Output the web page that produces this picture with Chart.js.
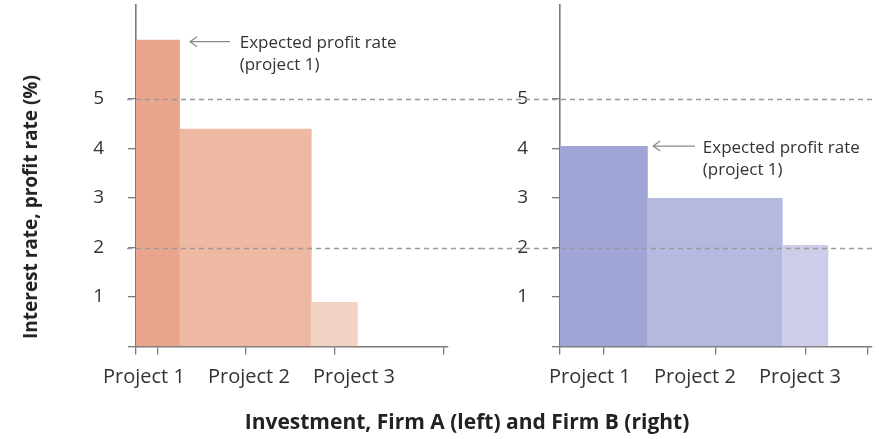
<!DOCTYPE html>
<html>
<head>
<meta charset="utf-8">
<script src="https://cdn.jsdelivr.net/npm/chart.js@4.4.1/dist/chart.umd.min.js"></script>
<style>
body{margin:0;background:#fff;width:879px;height:439px;position:relative;overflow:hidden;font-family:"Open Sans",sans-serif}
#leftWrap{position:absolute;left:0;top:0;width:480px;height:439px}
#rightWrap{position:absolute;left:480px;top:0;width:399px;height:439px}
.ytitle{position:absolute;left:30px;top:207px;transform:translate(-50%,-50%) rotate(-90deg);font-weight:bold;font-size:19px;white-space:nowrap;color:#222}
.xtitle{position:absolute;left:467px;top:421px;transform:translate(-50%,-50%);font-weight:bold;font-size:21px;white-space:nowrap;color:#222}
</style>
</head>
<body>
<div id="leftWrap"><canvas id="chartA"></canvas></div>
<div id="rightWrap"><canvas id="chartB"></canvas></div>
<div class="ytitle">Interest rate, profit rate (%)</div>
<div class="xtitle">Investment, Firm A (left) and Firm B (right)</div>
<script>
// ----- DATOS ----- //
const PROJECTS = ["Project 1", "Project 2", "Project 3"];
// Firm A (izquierda): tamaño de inversión y tasa de beneficio esperada
const FIRM_A_SIZE = [1.0, 3.0, 1.05];
const FIRM_A_RATE = [6.2, 4.4, 0.9];
// Firm B (derecha)
const FIRM_B_SIZE = [2.0, 3.07, 1.04];
const FIRM_B_RATE = [4.05, 3.0, 2.05];
// líneas de tipo de interés (discontinuas)
const INTEREST_RATES = [5, 2];
const Y_TICKS = [0, 1, 2, 3, 4, 5];
const ANNOT_LINES = ["Expected profit rate", "(project 1)"];

// ----- ESTILO ----- //
const COLORS_A = ["#e9a58c", "#edb9a3", "#f2d2c4"];
const COLORS_B = ["#a1a5d5", "#b5b8df", "#cbcde9"];
const AXIS = "#7a7a7a";
const FONT = "'Open Sans', sans-serif";

function buildBars(sizes, rates, colors) {
    let start = 0;
    return sizes.map((w, i) => {
        let ds = {
            label: PROJECTS[i],
            data: [{x: start, y: rates[i]}, {x: start + w, y: rates[i]}],
            fill: 'origin', backgroundColor: colors[i],
            borderWidth: 0, pointRadius: 0, tension: 0
        };
        start += w;
        return ds;
    });
}
function midpoints(sizes) {
    let start = 0, mids = [];
    sizes.forEach(w => { mids.push(start + w / 2); start += w; });
    return mids;
}

// plugin: líneas discontinuas, etiquetas del eje x y anotación
const extras = {
    id: 'extras',
    afterDatasetsDraw(chart, args, o) {
        const ctx = chart.ctx, xs = chart.scales.x, ys = chart.scales.y, a = chart.chartArea;
        ctx.save();
        // líneas de interés
        ctx.strokeStyle = "#9a9a9a"; ctx.lineWidth = 1.3; ctx.setLineDash([5, 4]);
        INTEREST_RATES.forEach(r => {
            let y = Math.round(ys.getPixelForValue(r)) + 0.5;
            ctx.beginPath();
            ctx.moveTo(o.dashFrom(a), y); ctx.lineTo(o.dashTo(chart, a), y);
            ctx.stroke();
        });
        ctx.setLineDash([]);
        // etiquetas de proyectos
        ctx.fillStyle = "#333"; ctx.font = "20px " + FONT;
        ctx.textAlign = "center"; ctx.textBaseline = "middle";
        o.labelX.forEach((v, i) => ctx.fillText(PROJECTS[i], xs.getPixelForValue(v), a.bottom + 31));
        // anotación
        let ay = ys.getPixelForValue(o.rate) + o.dy;
        let x1 = xs.getPixelForValue(o.arrow[0]), x2 = xs.getPixelForValue(o.arrow[1]);
        ctx.strokeStyle = "#8a8a8a"; ctx.lineWidth = 1.2;
        ctx.beginPath();
        ctx.moveTo(x2, ay); ctx.lineTo(x1, ay);
        ctx.moveTo(x1 + 7, ay - 5); ctx.lineTo(x1, ay); ctx.lineTo(x1 + 7, ay + 5);
        ctx.stroke();
        ctx.font = "17px " + FONT; ctx.textAlign = "left"; ctx.fillStyle = "#333";
        let tx = xs.getPixelForValue(o.textX);
        ANNOT_LINES.forEach((t, i) => ctx.fillText(t, tx, ay + 2 + i * 22));
        ctx.restore();
    }
};

function makeChart(id, sizes, rates, colors, yWidth, padRight, opts) {
    const mids = midpoints(sizes);
    return new Chart(document.getElementById(id), {
        type: 'line',
        data: {datasets: buildBars(sizes, rates, colors)},
        options: {
            responsive: true, maintainAspectRatio: false, animation: false,
            layout: {autoPadding: false, padding: {top: 5, right: padRight, left: 0, bottom: 0}},
            plugins: {legend: {display: false}, tooltip: {enabled: false}, extras: opts},
            scales: {
                x: {
                    type: 'linear', min: 0, max: 7.1,
                    afterBuildTicks: s => { s.ticks = [0].concat(mids, [7]).map(v => ({value: v})); },
                    afterFit: s => { s.height = 92.5; s.paddingLeft = 0; s.paddingRight = 0; },
                    ticks: {callback: () => "", font: {size: 1}},
                    grid: {drawOnChartArea: false, drawTicks: true, tickLength: 8, color: AXIS, lineWidth: 1.3},
                    border: {color: AXIS, width: 1.6}
                },
                y: {
                    min: 0, max: 6.9,
                    afterBuildTicks: s => { s.ticks = Y_TICKS.map(v => ({value: v})); },
                    afterFit: s => { s.width = yWidth; s.paddingTop = 0; s.paddingBottom = 0; },
                    ticks: {callback: v => v === 0 ? "" : v, color: "#333", font: {family: FONT, size: 19}, padding: 24},
                    grid: {drawOnChartArea: false, drawTicks: true, tickLength: 8, color: AXIS, lineWidth: 1.3},
                    border: {color: AXIS, width: 1.6}
                }
            }
        },
        plugins: [extras]
    });
}

makeChart("chartA", FIRM_A_SIZE, FIRM_A_RATE, COLORS_A, 136, 32, {
    labelX: [0.18, 2.57, 4.96], rate: FIRM_A_RATE[0], dy: 2,
    arrow: [1.23, 2.14], textX: 2.36,
    dashFrom: a => a.left - 9, dashTo: (c, a) => c.width
});
makeChart("chartB", FIRM_B_SIZE, FIRM_B_RATE, COLORS_B, 80, 7, {
    labelX: [0.68, 3.07, 5.46], rate: FIRM_B_RATE[0], dy: 0,
    arrow: [2.12, 3.07], textX: 3.25,
    dashFrom: a => 0, dashTo: (c, a) => a.right + 4
});
</script>
</body>
</html>
